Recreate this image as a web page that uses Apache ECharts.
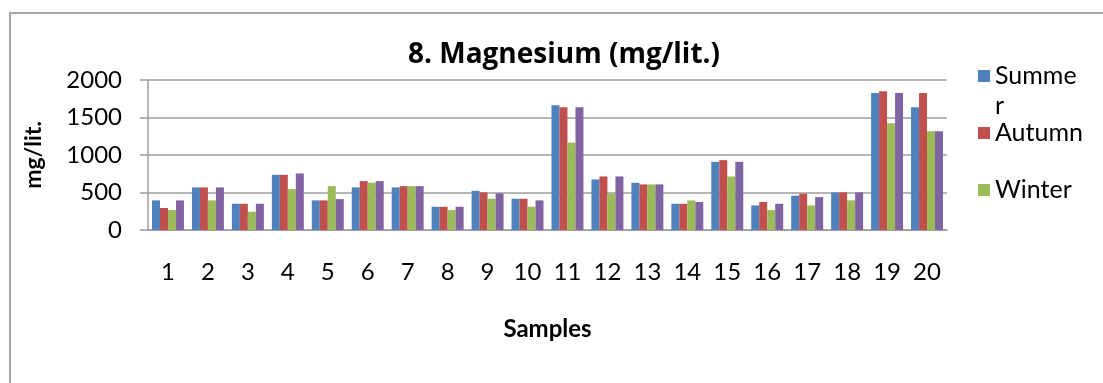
<!DOCTYPE html>
<html>
<head>
<meta charset="utf-8">
<script src="https://cdn.jsdelivr.net/npm/echarts@6/dist/echarts.min.js"></script>
<style>
html,body{margin:0;padding:0;background:#fff;}
#chart{width:1103px;height:383px;}
</style>
</head>
<body>
<div id="chart"></div>
<script>
const categories = ['1','2','3','4','5','6','7','8','9','10','11','12','13','14','15','16','17','18','19','20'];
const summer = [395, 568, 350, 736, 395, 568, 568, 310, 523, 417, 1663, 674, 630, 350, 909, 328, 457, 501, 1827, 1636];
const autumn = [293, 568, 350, 736, 395, 652, 585, 310, 501, 417, 1636, 714, 608, 350, 931, 373, 483, 501, 1849, 1827];
const winter = [266, 395, 244, 545, 585, 630, 585, 266, 417, 310, 1166, 483, 608, 395, 714, 266, 328, 395, 1424, 1317];
const spring = [395, 568, 350, 754, 412, 652, 585, 310, 488, 395, 1636, 714, 608, 373, 909, 350, 439, 501, 1827, 1317];
const yTicks = [0, 500, 1000, 1500, 2000];

const FONT = 'Lato';
const chart = echarts.init(document.getElementById('chart'), null, {renderer: 'canvas'});

function mkLegend(name, top, formatter) {
  return {
    data: [name],
    left: 973,
    top: top,
    orient: 'vertical',
    itemWidth: 12,
    itemHeight: 12,
    icon: 'rect',
    selectedMode: false,
    formatter: formatter,
    textStyle: {
      fontFamily: FONT, fontSize: 25, color: '#000', lineHeight: 30,
      rich: { a: { fontFamily: FONT, fontSize: 25, color: '#000', lineHeight: 30 } }
    }
  };
}

chart.setOption({
  animation: false,
  backgroundColor: '#fff',
  title: {
    text: '8. Magnesium (mg/lit.)',
    left: 559,
    top: 36,
    textAlign: 'center',
    textStyle: { fontFamily: 'Open Sans', fontSize: 28, fontWeight: 'bold', color: '#000' }
  },
  graphic: [{
    type: 'rect',
    shape: { x: 10, y: 13, width: 1200, height: 500 },
    style: { fill: 'none', stroke: '#a6a6a6', lineWidth: 2 },
    silent: true, z: -1
  }],
  legend: [
    mkLegend('Summer', 26, function () { return '{a| }\n{a|Summe}\n{a|r}'; }),
    mkLegend('Autumn', 113),
    mkLegend('Winter', 170)
  ],
  grid: { left: 148, right: 156, top: 80, bottom: 153, containLabel: false },
  xAxis: {
    type: 'category',
    data: categories,
    name: 'Samples',
    nameLocation: 'middle',
    nameGap: 87,
    nameTextStyle: { fontFamily: FONT, fontSize: 24, fontWeight: 'bold', color: '#000' },
    axisLine: { lineStyle: { color: '#9e9e9e', width: 1.5 } },
    axisTick: { show: false },
    axisLabel: { fontFamily: FONT, fontSize: 24, color: '#000', margin: 30 }
  },
  yAxis: {
    type: 'value',
    min: 0, max: 2000, interval: 500,
    name: 'mg/lit.',
    nameLocation: 'middle',
    nameGap: 103,
    nameRotate: 90,
    nameTextStyle: { fontFamily: FONT, fontSize: 23, fontWeight: 'bold', color: '#000' },
    axisLine: { show: true, lineStyle: { color: '#9e9e9e', width: 1.5 } },
    axisTick: { show: true, length: 8, lineStyle: { color: '#9e9e9e', width: 1.5 } },
    splitLine: { lineStyle: { color: '#9e9e9e', width: 1.5 } },
    axisLabel: {
      fontFamily: FONT, fontSize: 24, color: '#000', margin: 26,
      formatter: function (v) { return yTicks.indexOf(v) >= 0 ? String(v) : ''; }
    }
  },
  series: [
    { name: 'Summer', type: 'bar', data: summer, itemStyle: { color: '#4F81BD' }, barGap: '0%', barCategoryGap: '20%' },
    { name: 'Autumn', type: 'bar', data: autumn, itemStyle: { color: '#C0504D' } },
    { name: 'Winter', type: 'bar', data: winter, itemStyle: { color: '#9BBB59' } },
    { name: 'Spring', type: 'bar', data: spring, itemStyle: { color: '#8064A2' } }
  ]
});
</script>
</body>
</html>
